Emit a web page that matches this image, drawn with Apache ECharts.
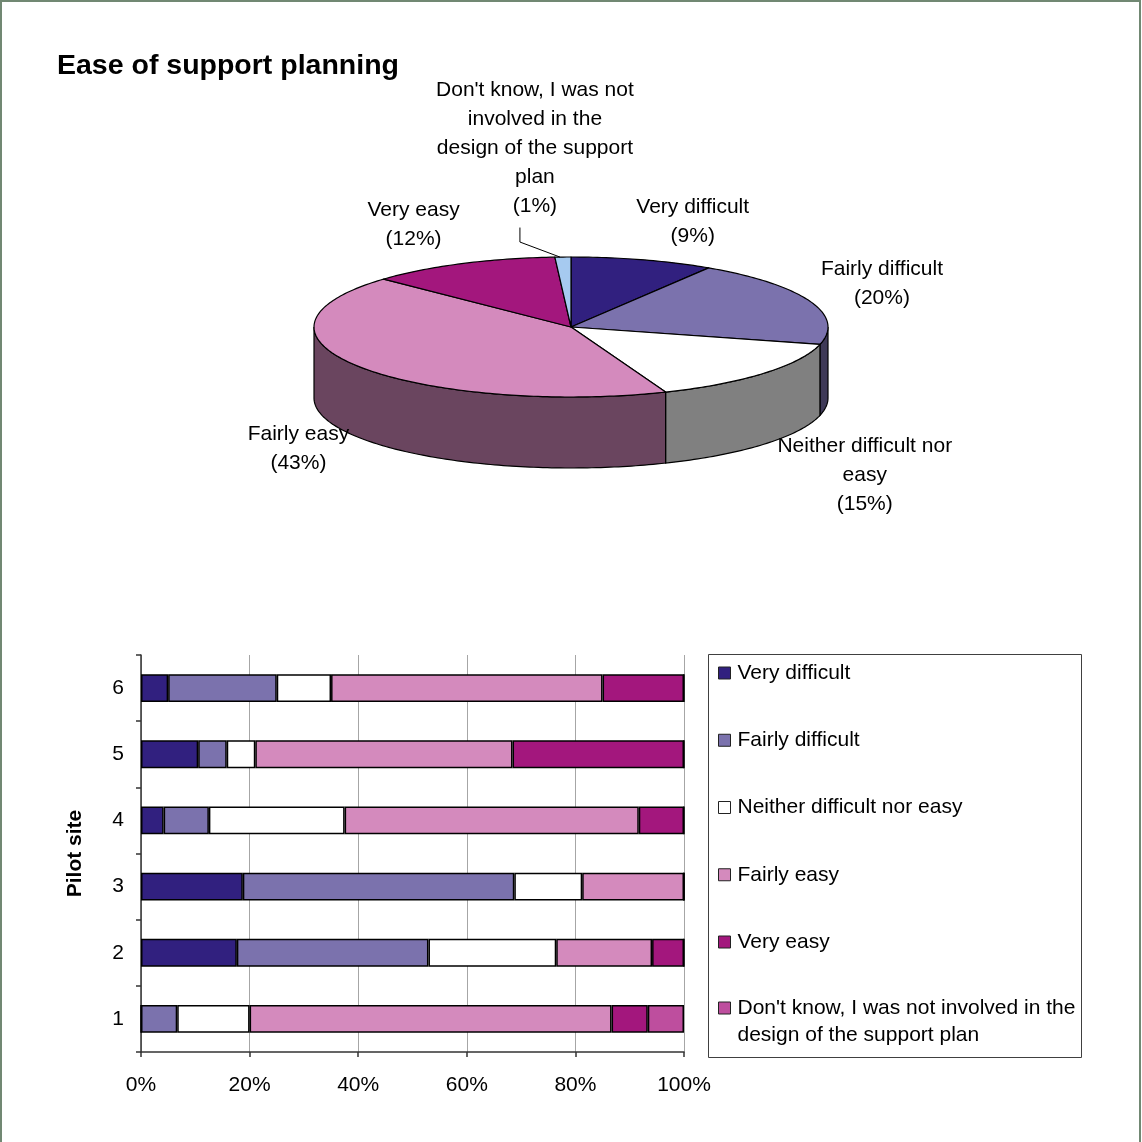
<!DOCTYPE html>
<html>
<head>
<meta charset="utf-8">
<script src="https://cdn.jsdelivr.net/npm/echarts@6/dist/echarts.min.js"></script>
<style>
  html, body { margin: 0; padding: 0; background: #fff; }
  #chart { width: 1142px; height: 1142px; }
</style>
</head>
<body>
<div id="chart"></div>
<script>
// Response categories (shared by the pie and the stacked bars)
const categories = [
  'Very difficult',
  'Fairly difficult',
  'Neither difficult nor easy',
  'Fairly easy',
  'Very easy',
  "Don't know, I was not involved in the design of the support plan"
];
// Wrapped wording used for the pie labels
const pieLabelText = [
  'Very difficult',
  'Fairly difficult',
  'Neither difficult nor\neasy',
  'Fairly easy',
  'Very easy',
  "Don't know, I was not\ninvolved in the\ndesign of the support\nplan"
];
// Overall share of answers (%)
const overallShare = [9, 20, 15, 43, 12, 1];

// Per pilot site (sites 1..6), share of answers (%)
const sites = ['1', '2', '3', '4', '5', '6'];
const veryDifficult   = [0,     17.65, 18.75, 4.17,  10.53, 5];
const fairlyDifficult = [6.67,  35.29, 50,    8.33,  5.26,  20];
const neitherNor      = [13.33, 23.53, 12.5,  25,    5.26,  10];
const fairlyEasy      = [66.66, 17.65, 18.75, 54.17, 47.37, 50];
const veryEasy        = [6.67,  5.88,  0,     8.33,  31.58, 15];
const dontKnow        = [6.67,  0,     0,     0,     0,     0];
const siteSeries = [veryDifficult, fairlyDifficult, neitherNor, fairlyEasy, veryEasy, dontKnow];

// Styling
const FONT = '"Liberation Sans", Arial, Helvetica, sans-serif';
const pieColors = ['#31207f', '#7b72ad', '#ffffff', '#d48abd', '#a3177d', '#a6caf0'];
const barColors = ['#31207f', '#7b72ad', '#ffffff', '#d48abd', '#a3177d', '#be4e9e'];
const PIE = { cx: 571, cy: 327, rx: 257, ry: 70, depth: 71 };
// label shift away from the slice rim, per slice
const pieLabelShift = [[50, -38], [72, -18], [101, 31], [-60, 11], [-48, -39], [-28, -109]];

function darken(hex, f) {
  const n = parseInt(hex.slice(1), 16);
  const r = Math.round(((n >> 16) & 255) * f);
  const g = Math.round(((n >> 8) & 255) * f);
  const b = Math.round((n & 255) * f);
  return 'rgb(' + r + ',' + g + ',' + b + ')';
}

// point on the tilted rim; angle in degrees clockwise from 12 o'clock
function rim(deg, drop) {
  const a = deg * Math.PI / 180;
  return [PIE.cx + PIE.rx * Math.sin(a), PIE.cy - PIE.ry * Math.cos(a) + (drop || 0)];
}
function arc(from, to, drop) {
  const pts = [];
  const steps = Math.max(2, Math.ceil(Math.abs(to - from) / 1));
  for (let k = 0; k <= steps; k++) pts.push(rim(from + (to - from) * k / steps, drop));
  return pts;
}

const shareTotal = overallShare.reduce((s, v) => s + v, 0);
const cumShare = [0];
overallShare.forEach((v, i) => cumShare.push(cumShare[i] + v));

function renderSlice(params, api) {
  const i = params.dataIndex;
  const value = api.value(0);
  const start = cumShare[i] / shareTotal * 360;
  const end = start + value / shareTotal * 360;
  const color = pieColors[i];
  const children = [];

  // visible front wall (between 90 and 270 degrees)
  const s = Math.max(start, 90), e = Math.min(end, 270);
  if (s < e) {
    const pts = arc(s, e, 0).concat(arc(e, s, PIE.depth));
    children.push({
      type: 'polygon',
      shape: { points: pts },
      style: { fill: darken(color, 0.5), stroke: '#000', lineWidth: 1.2 }
    });
  }
  // top face
  children.push({
    type: 'polygon',
    shape: { points: [[PIE.cx, PIE.cy]].concat(arc(start, end, 0)) },
    style: { fill: color, stroke: '#000', lineWidth: 1.2, lineJoin: 'round' }
  });

  // label
  const mid = (start + end) / 2;
  const front = Math.cos(mid * Math.PI / 180) < 0;
  const anchor = rim(mid, front ? PIE.depth : 0);
  const lx = anchor[0] + pieLabelShift[i][0];
  const ly = anchor[1] + pieLabelShift[i][1];
  const pct = Math.round(value / shareTotal * 100);
  const text = pieLabelText[i] + '\n(' + pct + '%)';
  const nLines = text.split('\n').length;
  children.push({
    type: 'text',
    style: {
      text: text, x: lx, y: ly, align: 'center', verticalAlign: 'middle',
      font: '21px ' + FONT, lineHeight: 29, fill: '#000'
    }
  });
  // leader line for very thin slices
  if (value / shareTotal < 0.03) {
    const edge = rim(mid, 0);
    const bottom = ly + nLines * 29 / 2;
    children.push({
      type: 'polyline',
      shape: { points: [[edge[0] - 3, edge[1]], [lx - 15, edge[1] - 15], [lx - 15, bottom + 7]] },
      style: { stroke: '#000', lineWidth: 1, fill: null }
    });
  }
  return { type: 'group', children: children };
}

const chart = echarts.init(document.getElementById('chart'), null, { renderer: 'canvas' });

const legendText = { fontSize: 21, fontFamily: FONT, color: '#000', lineHeight: 27, padding: [0, 0, 0, 2] };

const option = {
  animation: false,
  backgroundColor: '#fff',
  title: {
    text: 'Ease of support planning',
    left: 57, top: 52, padding: 0,
    textStyle: { fontSize: 28.5, fontWeight: 'bold', fontFamily: FONT, color: '#000' }
  },
  graphic: [
    { type: 'rect', shape: { x: 1, y: 1, width: 1139, height: 1150 },
      style: { fill: null, stroke: '#718873', lineWidth: 2 }, silent: true, z: 100 },
    { type: 'rect', shape: { x: 708.5, y: 654.5, width: 373, height: 403 },
      style: { fill: null, stroke: '#404040', lineWidth: 1 }, silent: true }
  ],
  legend: [
    {
      data: categories.slice(0, 5),
      orient: 'vertical', left: 718, top: 659.5, padding: 0,
      itemWidth: 12, itemHeight: 12, itemGap: 40.25,
      icon: 'rect',
      itemStyle: { borderColor: '#222', borderWidth: 1 },
      textStyle: legendText,
      selectedMode: false
    },
    {
      data: [categories[5]],
      orient: 'vertical', left: 718, top: 967.5, padding: 0,
      itemWidth: 12, itemHeight: 12,
      icon: 'rect',
      itemStyle: { borderColor: '#222', borderWidth: 1 },
      textStyle: legendText,
      formatter: () => '\nDon\'t know, I was not involved in the\ndesign of the support plan',
      selectedMode: false
    }
  ],
  grid: { left: 141, right: 458, top: 655, bottom: 90, containLabel: false },
  xAxis: {
    type: 'value', min: 0, max: 100, interval: 20,
    axisLine: { show: true, lineStyle: { color: '#333', width: 1.5 } },
    axisTick: { show: true, length: 5, inside: false, lineStyle: { color: '#333', width: 1.5 } },
    splitLine: { show: true, lineStyle: { color: '#a6a6a6', width: 1 } },
    axisLabel: { formatter: '{value}%', fontSize: 21, fontFamily: FONT, color: '#000', margin: 23 }
  },
  yAxis: {
    type: 'category', data: sites,
    axisLine: { show: true, lineStyle: { color: '#333', width: 1.5 } },
    axisTick: { show: true, length: 5, inside: false, lineStyle: { color: '#333', width: 1.5 } },
    axisLabel: { fontSize: 21, fontFamily: FONT, color: '#000', margin: 17 },
    name: 'Pilot site', nameLocation: 'middle', nameGap: 55, nameRotate: 90,
    nameTextStyle: { fontSize: 21, fontWeight: 'bold', fontFamily: FONT, color: '#000' }
  },
  series: siteSeries.map((vals, i) => ({
    name: categories[i],
    type: 'bar',
    stack: 'sites',
    barWidth: '42%',
    data: vals,
    itemStyle: { color: barColors[i], borderColor: '#000', borderWidth: 1.5 }
  })).concat([{
    type: 'custom',
    coordinateSystem: 'none',
    silent: true,
    data: overallShare,
    renderItem: renderSlice
  }])
};

chart.setOption(option);
</script>
</body>
</html>
